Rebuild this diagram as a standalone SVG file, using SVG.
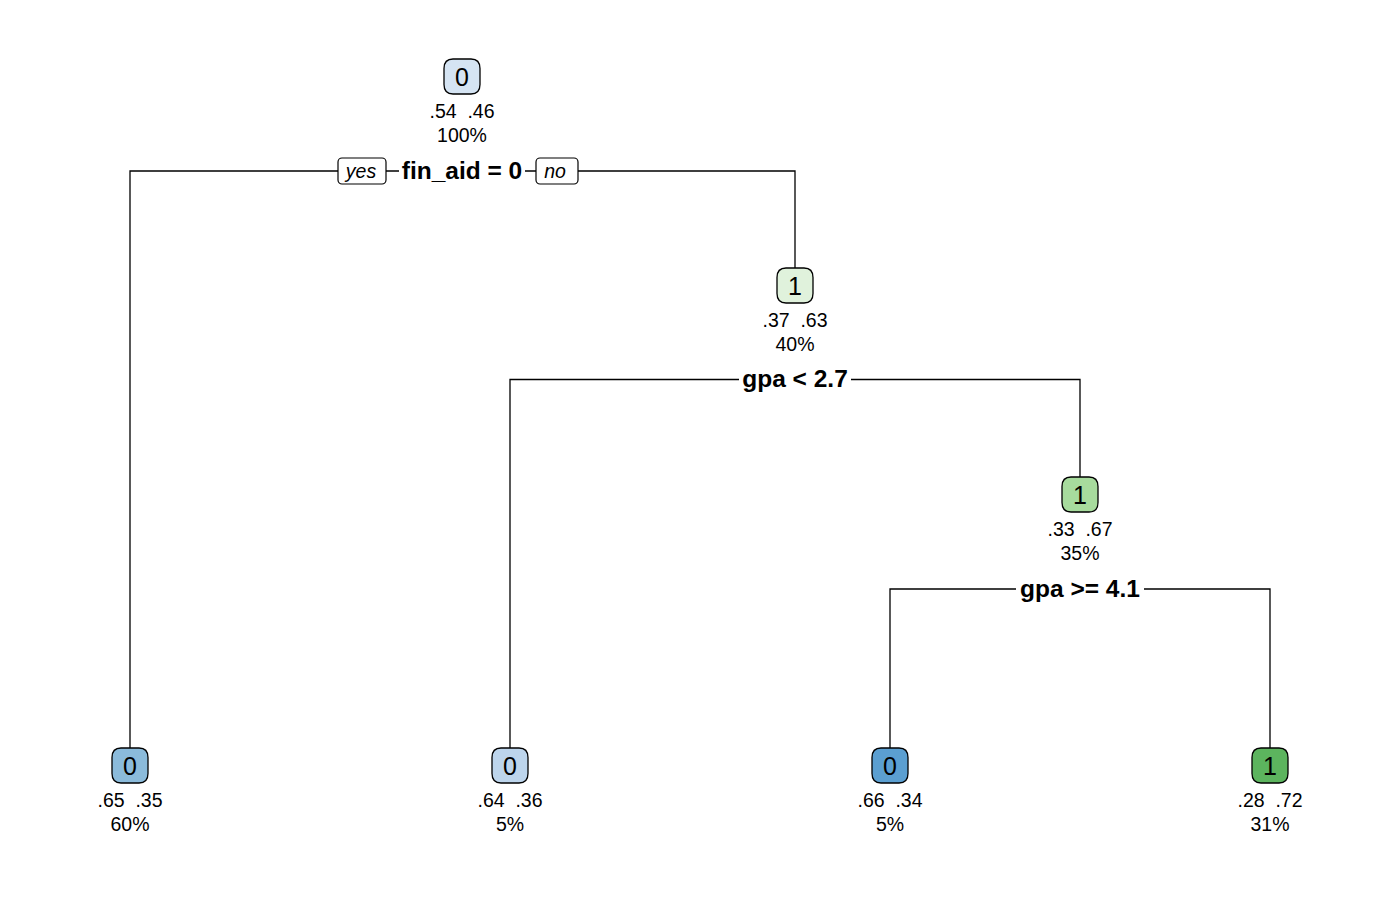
<svg xmlns="http://www.w3.org/2000/svg" width="1400" height="900" viewBox="0 0 1400 900">
  <style>
    .lbl { font-family: "Liberation Sans", Arial, sans-serif; font-size: 25px; text-anchor: middle; fill: #000; }
    .prob { font-family: "Liberation Sans", Arial, sans-serif; font-size: 19.5px; text-anchor: middle; fill: #000; }
    .split { font-family: "Liberation Sans", Arial, sans-serif; font-size: 24.5px; font-weight: bold; text-anchor: middle; fill: #000; }
    .yn { font-family: "Liberation Sans", Arial, sans-serif; font-size: 19.5px; font-style: italic; text-anchor: middle; fill: #000; }
    .edge { fill: none; stroke: #000; stroke-width: 1.3; }
    .box { stroke: #000; stroke-width: 1.3; }
    .tag { fill: #fff; stroke: #000; stroke-width: 1.2; }
  </style>
  <defs>
    <!-- rounded node box with slightly convex sides, centred at origin -->
    <path id="nodebox" d="M -9,-17.5 H 9 C 15,-17.5 18,-14 18,-8 V 8 C 18,14 15,17.5 9,17.5 H -9 C -15,17.5 -18,14 -18,8 V -8 C -18,-14 -15,-17.5 -9,-17.5 Z"/>
  </defs>
  <rect width="1400" height="900" fill="#fff"/>

  <g id="connectors">
    <path class="edge" d="M 130,748 V 171 H 338 M 386,171 H 399 M 525,171 H 536 M 578,171 H 795 V 268"/>
    <path class="edge" d="M 510,748 V 379.5 H 739 M 851,379.5 H 1080 V 477"/>
    <path class="edge" d="M 890,748 V 589 H 1016 M 1144,589 H 1270 V 748"/>
  </g>

  <g id="node-root">
    <use href="#nodebox" class="box" x="462" y="76.5" fill="#D5E4F3"/>
    <text class="lbl" x="462" y="85.5">0</text>
    <text class="prob" x="462" y="118" xml:space="preserve">.54  .46</text>
    <text class="prob" x="462" y="142">100%</text>
    <text class="split" x="462" y="178.5">fin_aid = 0</text>
    <rect class="tag" x="338" y="158" width="48" height="26" rx="4"/>
    <text class="yn" x="361" y="178">yes</text>
    <rect class="tag" x="536" y="158" width="42" height="26" rx="4"/>
    <text class="yn" x="555" y="178">no</text>
  </g>

  <g id="node-2">
    <use href="#nodebox" class="box" x="130" y="765.5" fill="#8BBBDB"/>
    <text class="lbl" x="130" y="774.5">0</text>
    <text class="prob" x="130" y="807" xml:space="preserve">.65  .35</text>
    <text class="prob" x="130" y="831">60%</text>
  </g>

  <g id="node-3">
    <use href="#nodebox" class="box" x="795" y="285.5" fill="#E0F2DC"/>
    <text class="lbl" x="795" y="294.5">1</text>
    <text class="prob" x="795" y="327" xml:space="preserve">.37  .63</text>
    <text class="prob" x="795" y="351">40%</text>
    <text class="split" x="795" y="387">gpa &lt; 2.7</text>
  </g>

  <g id="node-6">
    <use href="#nodebox" class="box" x="510" y="765.5" fill="#BDD5EC"/>
    <text class="lbl" x="510" y="774.5">0</text>
    <text class="prob" x="510" y="807" xml:space="preserve">.64  .36</text>
    <text class="prob" x="510" y="831">5%</text>
  </g>

  <g id="node-7">
    <use href="#nodebox" class="box" x="1080" y="494.5" fill="#A7DB9D"/>
    <text class="lbl" x="1080" y="503.5">1</text>
    <text class="prob" x="1080" y="536" xml:space="preserve">.33  .67</text>
    <text class="prob" x="1080" y="560">35%</text>
    <text class="split" x="1080" y="596.5">gpa &gt;= 4.1</text>
  </g>

  <g id="node-14">
    <use href="#nodebox" class="box" x="890" y="765.5" fill="#5B9FD1"/>
    <text class="lbl" x="890" y="774.5">0</text>
    <text class="prob" x="890" y="807" xml:space="preserve">.66  .34</text>
    <text class="prob" x="890" y="831">5%</text>
  </g>

  <g id="node-15">
    <use href="#nodebox" class="box" x="1270" y="765.5" fill="#5CB45E"/>
    <text class="lbl" x="1270" y="774.5">1</text>
    <text class="prob" x="1270" y="807" xml:space="preserve">.28  .72</text>
    <text class="prob" x="1270" y="831">31%</text>
  </g>
</svg>
